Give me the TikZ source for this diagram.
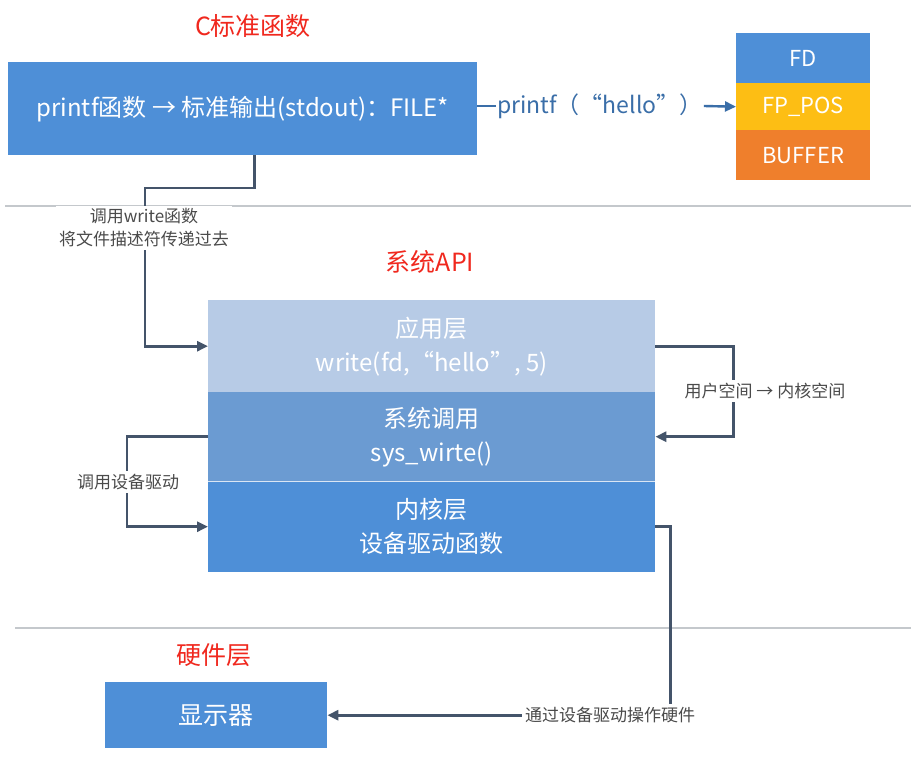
\documentclass[tikz,border=0pt]{standalone}
\usepackage{fontspec}
\setmainfont{Noto Sans CJK SC}
\usetikzlibrary{arrows.meta,calc}
\definecolor{boxblue}{HTML}{4E8FD7}
\definecolor{applight}{HTML}{B7CBE6}
\definecolor{sysmid}{HTML}{6B9BD2}
\definecolor{fpyellow}{HTML}{FDBE14}
\definecolor{buforange}{HTML}{EF7F2C}
\definecolor{conn}{HTML}{44546A}
\definecolor{rulegray}{HTML}{C4C8CC}
\definecolor{lblgray}{HTML}{4A4A4A}
\definecolor{titlered}{HTML}{F0281E}
\definecolor{printblue}{HTML}{3A6EA8}
\tikzset{
  x=1pt,y=-1pt,
  filled/.style={draw=none,inner sep=0pt,anchor=north west,text=white,align=center},
  titletext/.style={text=titlered,font=\fontsize{25}{28}\selectfont},
  smalllbl/.style={text=lblgray,fill=white,font=\fontsize{17}{23}\selectfont,align=center,inner sep=3pt},
  connector/.style={draw=conn,line width=2.8pt},
  arrowed/.style={connector,-{Triangle[length=11pt,width=10pt]}},
  layertext/.style={font=\fontsize{24}{34}\selectfont},
  stacktext/.style={font=\fontsize{22}{26}\selectfont}
}
\begin{document}
\begin{tikzpicture}
\useasboundingbox[fill=white] (0,0) rectangle (911,757);
% rules
\draw[rulegray,line width=2pt] (5,206) -- (911,206);
\draw[rulegray,line width=2pt] (15,628) -- (911,628);
% titles
\node[titletext] (t1) at (253,26) {C标准函数};
\node[titletext] (t2) at (430,262) {系统API};
\node[titletext] (t3) at (214,655) {硬件层};
% top box
\node[filled,fill=boxblue,minimum width=469pt,minimum height=93pt,font=\fontsize{24}{28}\selectfont] (top) at (8,62) {printf函数 → 标准输出(stdout)：FILE*};
% FILE stack
\node[filled,fill=boxblue,minimum width=134pt,minimum height=50pt,stacktext] (fd) at (736,33) {FD};
\node[filled,fill=fpyellow,minimum width=134pt,minimum height=47pt,stacktext] (fp) at (736,83) {FP\_POS};
\node[filled,fill=buforange,minimum width=134pt,minimum height=50pt,stacktext] (buf) at (736,130) {BUFFER};
% printf label
\node[text=printblue,font=\fontsize{23}{26}\selectfont,inner sep=1pt] (pl) at (600,106) {printf（“hello”）};
\draw[connector,draw=printblue,line width=2.4pt] (top.east |- pl.west) -- (pl.west);
\draw[arrowed,draw=printblue,line width=2.4pt] (pl.east) -- (fp.west);
% system stack
\node[filled,fill=applight,minimum width=447pt,minimum height=92pt,layertext] (app) at (208,300) {应用层\\write(fd,“hello”, 5)};
\node[filled,fill=sysmid,minimum width=447pt,minimum height=89pt,layertext] (sys) at (208,392) {系统调用\\sys\_wirte()};
\node[filled,fill=boxblue,minimum width=447pt,minimum height=91pt,layertext] (kern) at (208,481) {内核层\\设备驱动函数};
\draw[white!75!sysmid,line width=1pt] (sys.south west) -- (sys.south east);
% hardware box
\node[filled,fill=boxblue,minimum width=222pt,minimum height=66pt,font=\fontsize{25}{28}\selectfont] (disp) at (105,682) {显示器};
% connectors
\coordinate (c1) at (145,188);
\draw[arrowed] ([xshift=12pt]top.south) |- (c1) |- (app.west);
\node[smalllbl] (l1) at (144,228) {调用write函数\\将文件描述符传递过去};
\draw[arrowed] (app.east) -- ++(78,0) |- (sys.east);
\node[smalllbl] (l2) at (765,391) {用户空间 → 内核空间};
\draw[arrowed] (sys.west) -- ++(-81,0) |- (kern.west);
\node[smalllbl] (l3) at (128,482) {调用设备驱动};
\draw[arrowed] (kern.east) -- ++(15,0) |- (disp.east);
\node[smalllbl] (l4) at (610,715) {通过设备驱动操作硬件};
\end{tikzpicture}
\end{document}
